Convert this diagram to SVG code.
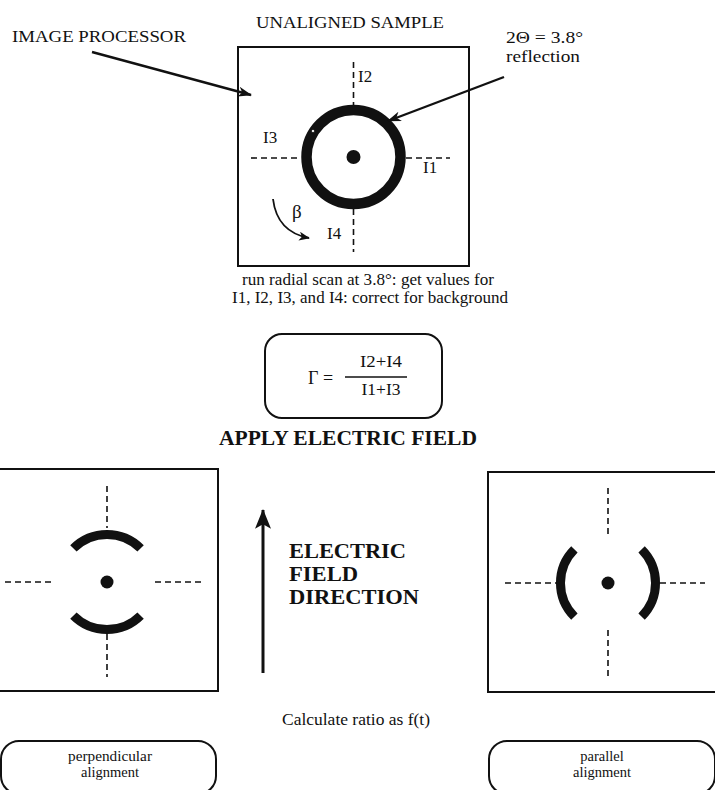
<svg xmlns="http://www.w3.org/2000/svg" width="715" height="790" viewBox="0 0 715 790">
<style>
.t{font-family:"Liberation Serif","Times New Roman",serif;fill:#111}
.b{font-weight:bold}
.box{fill:none;stroke:#111;stroke-width:2}
.dash{fill:none;stroke:#111;stroke-width:1.6;stroke-dasharray:6 4}
.thick{fill:none;stroke:#111}
.ln{fill:none;stroke:#111;stroke-width:2.4}
</style>
<defs>
<marker id="ah" viewBox="0 0 14 10" refX="13" refY="5" markerWidth="14" markerHeight="10" markerUnits="userSpaceOnUse" orient="auto"><path d="M0,0 L14,5 L0,10 L4,5 Z" fill="#111"/></marker>
<marker id="ahs" viewBox="0 0 12 10" refX="11" refY="5" markerWidth="11" markerHeight="9" markerUnits="userSpaceOnUse" orient="auto"><path d="M0,0 L12,5 L0,10 L3,5 Z" fill="#111"/></marker>
<marker id="ahf" viewBox="0 0 22 18" refX="21" refY="9" markerWidth="22" markerHeight="16" markerUnits="userSpaceOnUse" orient="auto"><path d="M0,0 L22,9 L0,18 L5,9 Z" fill="#111"/></marker>
</defs>

<g id="unaligned-sample">
<text class="t" x="350" y="28" font-size="17" text-anchor="middle" textLength="188" lengthAdjust="spacingAndGlyphs">UNALIGNED SAMPLE</text>
<rect class="box" x="238" y="47" width="231" height="219"/>
<line class="dash" x1="353.5" y1="62" x2="353.5" y2="105"/>
<line class="dash" x1="353.5" y1="209" x2="353.5" y2="252"/>
<line class="dash" x1="251" y1="158" x2="301" y2="158"/>
<line class="dash" x1="406" y1="158" x2="450" y2="158"/>
<circle class="thick" cx="353.5" cy="157" r="47" stroke-width="10.5"/>
<circle cx="353.5" cy="157" r="7" fill="#111"/>
<circle cx="313" cy="131" r="1.6" fill="#fff" stroke="#111" stroke-width="0.8"/>
<text class="t" x="358" y="82" font-size="17">I2</text>
<text class="t" x="263" y="143" font-size="17">I3</text>
<text class="t" x="423" y="173" font-size="17">I1</text>
<text class="t" x="327" y="239" font-size="17">I4</text>
<text class="t" x="292" y="218" font-size="19">β</text>
<path d="M273,199 Q277,232 309,238" fill="none" stroke="#111" stroke-width="1.8" marker-end="url(#ahs)"/>
</g>

<g id="image-processor">
<text class="t" x="12" y="42" font-size="17.5" textLength="174" lengthAdjust="spacingAndGlyphs">IMAGE PROCESSOR</text>
</g>

<g id="reflection">
<text class="t" x="506" y="43" font-size="17.5" textLength="77" lengthAdjust="spacingAndGlyphs">2Θ = 3.8°</text>
<text class="t" x="506" y="62" font-size="17.5" textLength="74" lengthAdjust="spacingAndGlyphs">reflection</text>
</g>

<g id="radial-scan">
<text class="t" x="368" y="285" font-size="16.5" text-anchor="middle" textLength="252" lengthAdjust="spacingAndGlyphs">run radial scan at 3.8°: get values for</text>
<text class="t" x="370" y="303" font-size="16.5" text-anchor="middle" textLength="276" lengthAdjust="spacingAndGlyphs">I1, I2, I3, and I4: correct for background</text>
</g>

<g id="ratio-formula">
<rect class="box" x="265" y="334" width="177" height="84" rx="17"/>
<text class="t" x="308" y="384" font-size="18">Γ =</text>
<text class="t" x="381" y="367" font-size="17" text-anchor="middle" textLength="42" lengthAdjust="spacingAndGlyphs">I2+I4</text>
<line x1="345" y1="377" x2="407" y2="377" stroke="#111" stroke-width="1.3"/>
<text class="t" x="381" y="395" font-size="17" text-anchor="middle" textLength="39" lengthAdjust="spacingAndGlyphs">I1+I3</text>
</g>

<g id="apply-field">
<text class="t b" x="348" y="445" font-size="21" text-anchor="middle" textLength="258" lengthAdjust="spacingAndGlyphs">APPLY ELECTRIC FIELD</text>
</g>

<g id="perpendicular-pattern">
<rect class="box" x="-5" y="469" width="223" height="222"/>
<line class="dash" x1="107" y1="486" x2="107" y2="528"/>
<line class="dash" x1="107" y1="634" x2="107" y2="677"/>
<line class="dash" x1="5" y1="582" x2="53" y2="582"/>
<line class="dash" x1="155" y1="582" x2="203" y2="582"/>
<path class="thick" stroke-width="9" d="M73.4,548.4 A47.5,47.5 0 0 1 140.6,548.4"/>
<path class="thick" stroke-width="9" d="M73.4,615.6 A47.5,47.5 0 0 0 140.6,615.6"/>
<circle cx="107" cy="582" r="6.5" fill="#111"/>
</g>

<g id="field-direction">
<text class="t b" x="289" y="558" font-size="21" textLength="117" lengthAdjust="spacingAndGlyphs">ELECTRIC</text>
<text class="t b" x="289" y="581" font-size="21" textLength="69" lengthAdjust="spacingAndGlyphs">FIELD</text>
<text class="t b" x="289" y="604" font-size="21" textLength="130" lengthAdjust="spacingAndGlyphs">DIRECTION</text>
</g>

<g id="parallel-pattern">
<rect class="box" x="488" y="472" width="235" height="220"/>
<line class="dash" x1="608" y1="488" x2="608" y2="537"/>
<line class="dash" x1="608" y1="630" x2="608" y2="678"/>
<line class="dash" x1="505" y1="583" x2="556" y2="583"/>
<line class="dash" x1="660" y1="583" x2="705" y2="583"/>
<path class="thick" stroke-width="9" d="M574.4,549.4 A47.5,47.5 0 0 0 574.4,616.6"/>
<path class="thick" stroke-width="9" d="M641.6,549.4 A47.5,47.5 0 0 1 641.6,616.6"/>
<circle cx="608" cy="583" r="6.5" fill="#111"/>
</g>

<g id="calculate">
<text class="t" x="356" y="725" font-size="17" text-anchor="middle" textLength="148" lengthAdjust="spacingAndGlyphs">Calculate ratio as f(t)</text>
</g>

<g id="perpendicular-alignment">
<rect class="box" x="1" y="741" width="215" height="53" rx="18"/>
<text class="t" x="110" y="761" font-size="14.5" text-anchor="middle" textLength="84" lengthAdjust="spacingAndGlyphs">perpendicular</text>
<text class="t" x="110" y="777" font-size="14.5" text-anchor="middle">alignment</text>
</g>

<g id="parallel-alignment">
<rect class="box" x="489" y="741" width="226" height="53" rx="18"/>
<text class="t" x="602" y="761" font-size="14.5" text-anchor="middle">parallel</text>
<text class="t" x="602" y="777" font-size="14.5" text-anchor="middle">alignment</text>
</g>

<g id="connectors">
<line class="ln" x1="92" y1="52" x2="251" y2="95" marker-end="url(#ah)"/>
<line class="ln" x1="504" y1="77" x2="388" y2="121" marker-end="url(#ah)"/>
<line x1="263" y1="673" x2="263" y2="510" stroke="#111" stroke-width="3" marker-end="url(#ahf)"/>
</g>
</svg>
